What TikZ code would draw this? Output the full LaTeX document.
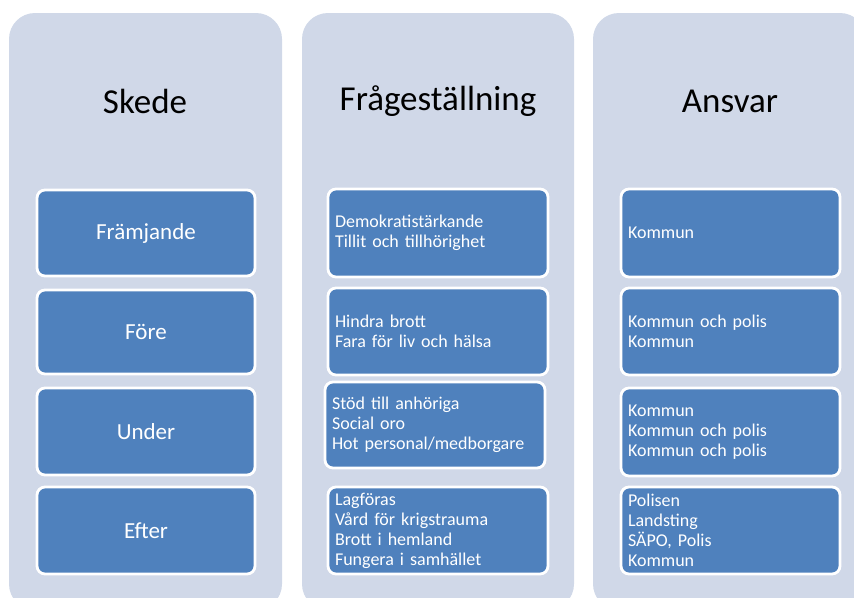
\documentclass[tikz,border=0pt]{standalone}
\usepackage{fontspec}
\setmainfont{Carlito}
\definecolor{bgc}{HTML}{D0D8E8}
\definecolor{boxc}{HTML}{4F81BD}
\begin{document}
\begin{tikzpicture}[x=1pt,y=-1pt,
  colbg/.style={fill=bgc, draw=none, rounded corners=26pt, minimum width=#1, inner sep=0pt},
  title/.style={font=\fontsize{35}{40}\selectfont, text=black},
  boxbase/.style={fill=boxc, draw=white, line width=2.8pt, rounded corners=8pt, inner sep=0pt},
  stage/.style={boxbase, font=\fontsize{23}{27}\selectfont, text=white, minimum width=218pt, minimum height=86pt},
  item/.style={boxbase, font=\fontsize{18}{20}\selectfont, text=white, align=left, inner xsep=7pt, inner ysep=0pt}]
\useasboundingbox (0,0) rectangle (854,597);
\clip (0,0) rectangle (854,597);
% column backgrounds
\node[colbg=273pt, minimum height=597pt] (c1) at (145.5,311.5) {};
\node[colbg=272pt, minimum height=597pt] (c2) at (438,311.5) {};
\node[colbg=273pt, minimum height=597pt] (c3) at (729.5,311.5) {};
% titles
\node[title] (t1) at (145,101) {Skede};
\node[title] (t2) at (438,101) {Frågeställning};
\node[title] (t3) at (730,101) {Ansvar};
% column 1
\node[stage] (s1) at (146,233) {Främjande};
\node[stage, minimum height=84pt] (s2) at (146,332) {Före};
\node[stage, minimum height=87pt] (s3) at (146,431.5) {Under};
\node[stage, minimum height=87pt] (s4) at (146,530.5) {Efter};
% column 2
\node[item, text width=206pt, minimum height=88pt] (q1) at (438,233) {Demokratistärkande\\Tillit och tillhörighet};
\node[item, text width=206pt, minimum height=87pt] (q2) at (438,331.5) {Hindra brott\\Fara för liv och hälsa};
\node[item, text width=206pt, minimum height=86pt] (q3) at (435,425) {Stöd till anhöriga\\Social oro\\Hot personal/medborgare};
\node[item, text width=206pt, minimum height=87pt] (q4) at (438,530.5) {Lagföras\\Vård för krigstrauma\\Brott i hemland\\Fungera i samhället};
% column 3
\node[item, text width=205pt, minimum height=88pt] (a1) at (730.5,233) {Kommun};
\node[item, text width=205pt, minimum height=87pt] (a2) at (730.5,331.5) {Kommun och polis\\Kommun};
\node[item, text width=205pt, minimum height=88pt] (a3) at (730.5,432) {Kommun\\Kommun och polis\\Kommun och polis};
\node[item, text width=205pt, minimum height=87pt] (a4) at (730.5,530.5) {Polisen\\Landsting\\SÄPO, Polis\\Kommun};
\end{tikzpicture}
\end{document}
